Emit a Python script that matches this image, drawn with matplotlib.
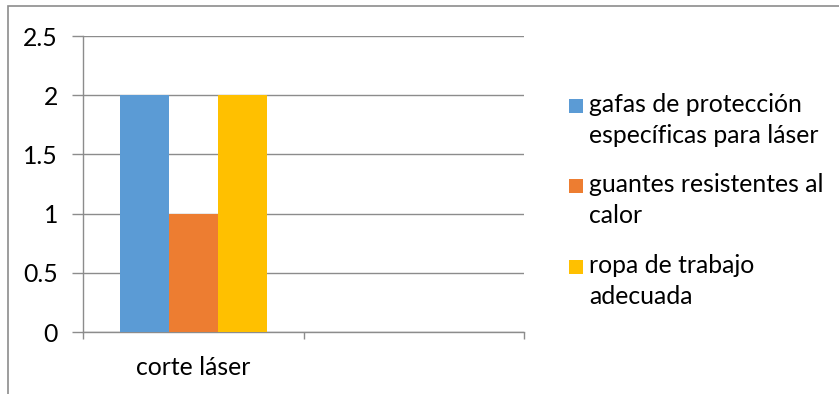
import matplotlib
matplotlib.use("Agg")
import matplotlib.pyplot as plt
from matplotlib.patches import Rectangle

# Data
categories = ["corte láser", ""]
series_names = [
    "gafas de protección\nespecíficas para láser",
    "guantes resistentes al\ncalor",
    "ropa de trabajo\nadecuada",
]
series_values = [
    [2, None],
    [1, None],
    [2, None],
]
y_ticks = [0, 0.5, 1, 1.5, 2, 2.5]
y_tick_labels = ["0", "0.5", "1", "1.5", "2", "2.5"]

colors = ["#5B9BD5", "#ED7D31", "#FFC000"]
grid_color = "#8C8C8C"
fs = 17.8

plt.rcParams["font.family"] = ["Lato", "DejaVu Sans"]

W, H = 839, 394
fig = plt.figure(figsize=(W / 100, H / 100), dpi=100)

# chart-area frame
fig.add_artist(Rectangle((7.5 / W, -0.1), 1.2, 1 - 6.5 / H + 0.1,
                         transform=fig.transFigure, fill=False,
                         edgecolor="#8C8C8C", linewidth=1.2))

ax = fig.add_axes([83 / W, (H - 332) / H, (524 - 83) / W, (332 - 36) / H])

n_series = len(series_values)
gap = 1.5
bar_w = 1 / (n_series + gap)
bars = []
for i, (vals, c) in enumerate(zip(series_values, colors)):
    xs, hs = [], []
    for j, v in enumerate(vals):
        if v is None:
            continue
        xs.append(j + 0.5 + (i - (n_series - 1) / 2) * bar_w)
        hs.append(v)
    bars.append(ax.bar(xs, hs, width=bar_w, color=c, zorder=3))

ax.set_xlim(0, len(categories))
ax.set_ylim(0, 2.5)

ax.set_yticks(y_ticks)
ax.set_yticklabels(y_tick_labels, fontsize=fs)
ax.yaxis.grid(True, color=grid_color, linewidth=1, zorder=0)
ax.tick_params(axis="y", length=8, width=1, color=grid_color, pad=10)

ax.set_xticks(range(len(categories) + 1))
ax.set_xticklabels([])
ax.set_xticks([j + 0.5 for j in range(len(categories))], minor=True)
ax.set_xticklabels(categories, minor=True, fontsize=fs)
ax.tick_params(axis="x", which="major", length=5, width=1, color=grid_color)
ax.tick_params(axis="x", which="minor", length=0, pad=17)

for s in ["top", "right"]:
    ax.spines[s].set_visible(False)
for s in ["left", "bottom"]:
    ax.spines[s].set_color(grid_color)
    ax.spines[s].set_linewidth(1)

# legend: square beside the first line of each entry
leg_top = [99, 179, 260]
for name, c, y in zip(series_names, colors, leg_top):
    fig.add_artist(Rectangle((569 / W, 1 - (y + 14) / H), 14 / W, 14 / H,
                             transform=fig.transFigure, facecolor=c,
                             edgecolor="none"))
    for k, line in enumerate(name.split("\n")):
        fig.text(589 / W, 1 - (y + 13 + 31 * k) / H, line, fontsize=fs,
                 va="baseline", ha="left")

fig.savefig("out.png", dpi=100)
